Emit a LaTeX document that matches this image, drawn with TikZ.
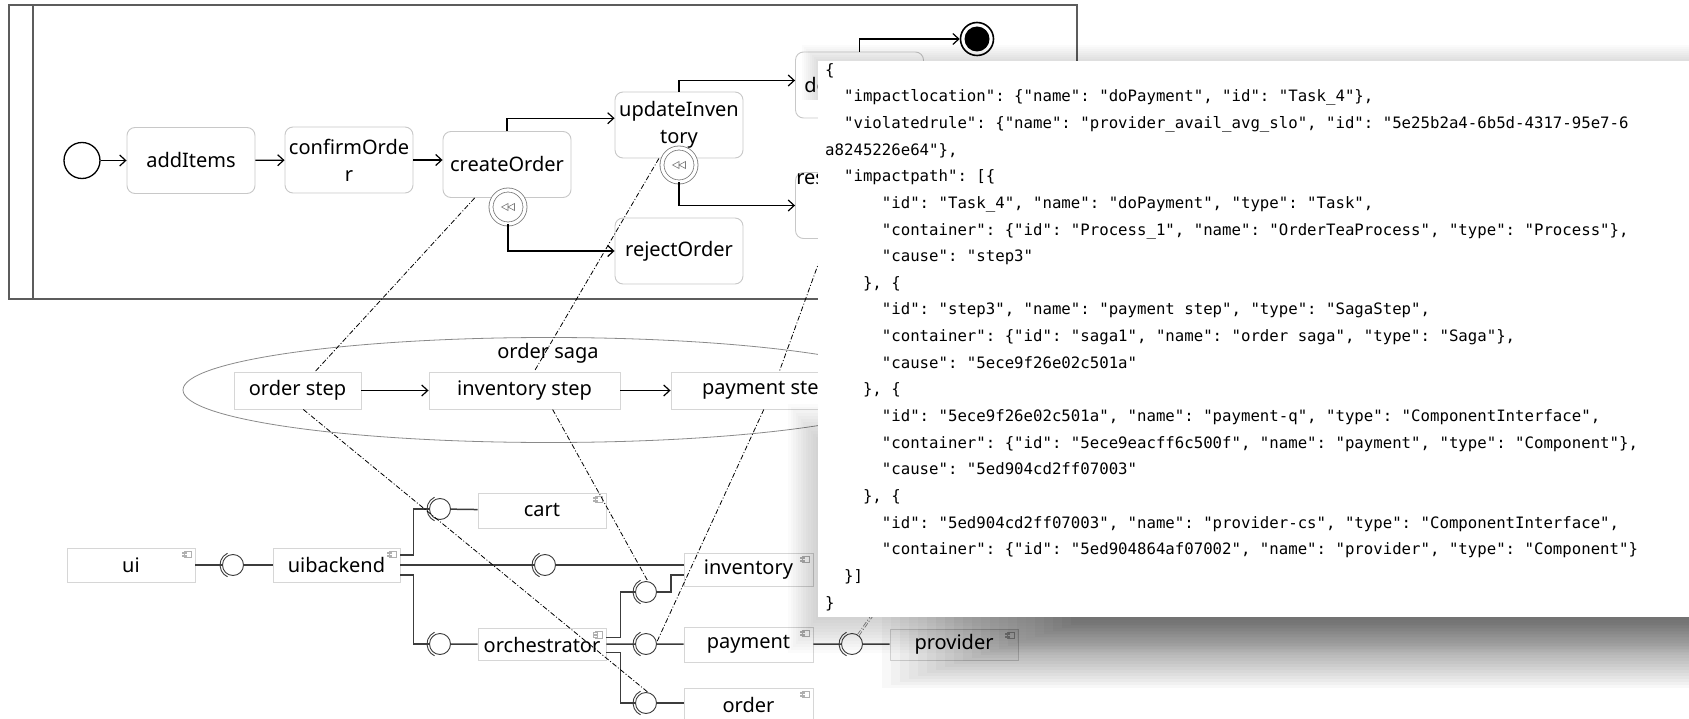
\documentclass[tikz,border=0pt]{standalone}
\usepackage{fontspec}
\setmainfont{Noto Sans}
\setmonofont{DejaVu Sans Mono}
\usetikzlibrary{arrows.meta,positioning,shapes.geometric}

\definecolor{poolc}{HTML}{5C5C5C}
\definecolor{boxc}{HTML}{C8C8C8}
\definecolor{compc}{HTML}{D6D6D6}
\definecolor{wirec}{HTML}{3C3C3C}
\definecolor{iconc}{HTML}{B0B0B0}
\definecolor{evc}{HTML}{7A7A7A}
\definecolor{sagac}{HTML}{8A8A8A}

\newcommand\taskfont{\fontsize{20}{27}\selectfont}
\newcommand\jsonfont{\ttfamily\fontsize{15.7}{26.65}\selectfont\frenchspacing}
\newcommand\ind[1]{\hspace*{#1\fontcharwd\font`x}}

\tikzstyle{pool} = [poolc, line width=1.5pt]
\tikzstyle{task} = [rectangle, rounded corners=8pt, draw=boxc, line width=0.9pt, fill=white, minimum width=128pt, minimum height=66pt, inner sep=1pt, align=center, font=\taskfont]
\tikzstyle{startev} = [circle, draw=black, line width=1.3pt, fill=white, minimum size=36pt, inner sep=0pt]
\tikzstyle{endev} = [circle, draw=black, line width=1.6pt, fill=white, minimum size=33pt, inner sep=0pt, path picture={\fill[black] (path picture bounding box.center) circle (12.5pt);}]
\tikzstyle{bevent} = [circle, draw=evc, line width=0.8pt, double=white, double distance=3.2pt, fill=white, minimum size=34pt, inner sep=0pt]
\tikzstyle{sagastep} = [rectangle, draw=compc, line width=0.9pt, fill=white, minimum height=37pt, inner sep=1pt, font=\taskfont]
\tikzstyle{comp} = [rectangle, draw=compc, line width=0.9pt, fill=white, minimum width=128pt, minimum height=34pt, inner sep=1pt, font=\taskfont]
\tikzstyle{ball} = [circle, draw=wirec, line width=0.9pt, fill=white, minimum size=21pt, inner sep=0pt]
\tikzstyle{arrow} = [black, line width=1.2pt, -{Straight Barb[length=6pt,width=11pt]}]
\tikzstyle{wire} = [wirec, line width=1.5pt]
\tikzstyle{trace} = [black, line width=0.8pt, dash pattern=on 5pt off 2pt on 1pt off 2pt]
\tikzstyle{json} = [inner sep=0pt, align=left, font=\jsonfont]

\tikzset{
  pics/rewind/.style={code={
    \draw[evc, line width=0.6pt] (-6.5pt,0pt) -- (0pt,3.5pt) -- (0pt,-3.5pt) -- cycle
      (0pt,0pt) -- (6.5pt,3.5pt) -- (6.5pt,-3.5pt) -- cycle;}},
  pics/compicon/.style={code={
    \draw[iconc, line width=0.6pt, fill=white] (-3.5pt,-3pt) rectangle (4pt,3.5pt);
    \draw[iconc, line width=0.6pt, fill=white] (-5.5pt,-2pt) rectangle (-1.5pt,-0.5pt)
      (-5.5pt,0.8pt) rectangle (-1.5pt,2.3pt);}}
}

\begin{document}
\begin{tikzpicture}[x=1pt, y=-1pt]
	\useasboundingbox (0,0) rectangle (1689,719);
	\clip (0,0) rectangle (1689,719);
	% pool and its lane header
	\draw [pool] (9,5) rectangle (1077,299);
	\draw [pool] (33,5) -- (33,299);

	% process
	\node (start) [startev] at (82,160.5) {};
	\node (addItems) [task] at (191,160.5) {addItems};
	\node (confirmOrder) [task] at (349,160) {confirmOrde\\r};
	\node (createOrder) [task] at (507,164.5) {createOrder};
	\node (updInv) [task] at (679,125) {updateInven\\tory};
	\node (rejectOrder) [task] at (679,251) {rejectOrder};
	\node (doPay) [task, label={[font=\taskfont, anchor=west, inner sep=0pt, xshift=9pt]west:do}] at (859.5,85) {};
	\node (resB) [task, label={[font=\taskfont, anchor=north west, inner sep=1pt]north west:res}] at (859.5,205.5) {};
	\node (cancelOrd) [bevent] at (508,207) {};
	\node (cancelInv) [bevent] at (679,165) {};
	\pic at (cancelOrd) {rewind};
	\pic at (cancelInv) {rewind};
	\node (finish) [endev] at (977,39) {};

	\draw [arrow] (start) -- (addItems);
	\draw [arrow] (addItems) -- (confirmOrder);
	\draw [arrow] (confirmOrder.east) -- (confirmOrder.east -| createOrder.west);
	\draw [arrow] (createOrder.north) |- (updInv.174);
	\draw [arrow] (cancelOrd.south) |- (rejectOrder.west);
	\draw [arrow] (updInv.north) |- (doPay.176);
	\draw [arrow] (cancelInv.south) |- (resB.west);
	\draw [arrow] (doPay.north) |- (finish.west);

	% saga
	\node (saga) [ellipse, draw=sagac, line width=0.8pt, minimum width=732pt, minimum height=105pt] at (549,390) {};
	\node (sagaName) [font=\taskfont] at (548,353) {order saga};
	\node (ostep) [sagastep, minimum width=127pt] at (297.5,390.5) {order step};
	\node (istep) [sagastep, minimum width=191pt] at (524.5,390.5) {inventory step};
	\node (pstep) [sagastep, minimum width=191pt] at (766.5,390.5) {payment step};
	\draw [arrow] (ostep) -- (istep);
	\draw [arrow] (istep) -- (pstep);

	% components and their interfaces
	\node (ui) [comp] at (131,565) {ui};
	\node (sUi) [ball] at (233,565) {};
	\node (uib) [comp, minimum width=127pt] at (336.5,565) {uibackend};
	\node (sCart) [ball] at (440,509) {};
	\node (cart) [comp, minimum height=35pt] at (542,510.5) {cart};
	\node (sInvA) [ball] at (545,565) {};
	\node (inv) [comp, minimum width=129pt, minimum height=33pt] at (748.5,569.5) {inventory};
	\node (sOrch) [ball] at (440,644) {};
	\node (orch) [comp, minimum height=32pt] at (542,644.5) {orchestrator};
	\node (sInvB) [ball] at (646,592) {};
	\node (sPay) [ball] at (646,644) {};
	\node (sOrd) [ball] at (646,703) {};
	\node (pay) [comp, minimum width=129pt, minimum height=35pt] at (748.5,644.5) {payment};
	\node (ordr) [comp, minimum width=129pt] at (748.5,705) {order};
	\node (sProv) [ball] at (852,644) {};
	\node (prov) [comp, minimum height=31pt] at (954,644.5) {provider};

	\draw [wire] (ui) -- (sUi);
	\draw [wire] (sUi) -- (uib);
	\draw [wire] (uib.9) -- ++(13,0) |- (sCart);
	\draw [wire] (uib) -- (sInvA);
	\draw [wire] (uib.-9) -- ++(13,0) |- (sOrch);
	\draw [wire] (sCart) -- (cart);
	\draw [wire] (sInvA) -- (sInvA -| inv.west);
	\draw [wire] (sOrch) -- (orch);
	\draw [wire] (orch.6) -- ++(14,0) |- (sInvB);
	\draw [wire] (orch) -- (sPay);
	\draw [wire] (orch.-7) -- ++(14,0) |- (sOrd);
	\draw [wire] (sInvB) -- ++(25,0) |- (inv.185);
	\draw [wire] (sPay) -- (pay);
	\draw [wire] (sOrd) -- (sOrd -| ordr.west);
	\draw [wire] (pay) -- (sProv);
	\draw [wire] (sProv) -- (prov);
	\foreach \s in {sUi,sCart,sInvA,sOrch,sInvB,sPay,sOrd,sProv}
		\draw [wirec, line width=0.9pt] (\s.center) ++(115:13pt) arc [start angle=115, end angle=245, radius=13pt];
	\foreach \c in {ui,uib,cart,inv,orch,pay,ordr,prov}
		\pic at ([xshift=-8pt,yshift=-7pt]\c.north east) {compicon};

	% task -> saga step -> interface links
	\draw [trace] (createOrder.226) -- (ostep.47);
	\draw [trace] (ostep.-73) -- (sOrd.80);
	\draw [trace] (updInv.239) -- (istep.63);
	\draw [trace] (istep.-34) -- (sInvB.80);
	\draw [trace] (doPay.-71) -- (pstep.56);
	\draw [trace] (pstep.-98) -- (sPay.10);
	\coordinate (provLink) at (1010,420);
	\draw [trace, gray, double, double distance=1pt] (sProv.55) -- (provLink);

	% popup with its drop shadow
	\foreach \k in {1,...,22}
		\fill [black, opacity=0.028] (1080-9*\k,470-3*\k) rectangle (1770,622+3*\k);
	\foreach \k in {1,...,12}
		\fill [black, opacity=0.017] (818-2.5*\k,440-3*\k) rectangle (1770,617+3*\k);
	\foreach \k in {1,...,8}
		\fill [black, opacity=0.015] (818-2*\k,61-2*\k) rectangle (1770,100);
	\fill [white] (818,61) rectangle (1770,617);
	\node (impact) [json, anchor=north west] at (825,63) {%
\{\\
\ind{2}"impactlocation": \{"name": "doPayment", "id": "Task\_4"\},\\
\ind{2}"violatedrule": \{"name": "provider\_avail\_avg\_slo", "id": "5e25b2a4-6b5d-4317-95e7-6\\
a8245226e64"\},\\
\ind{2}"impactpath": [\{\\
\ind{6}"id": "Task\_4", "name": "doPayment", "type": "Task",\\
\ind{6}"container": \{"id": "Process\_1", "name": "OrderTeaProcess", "type": "Process"\},\\
\ind{6}"cause": "step3"\\
\ind{4}\}, \{\\
\ind{6}"id": "step3", "name": "payment step", "type": "SagaStep",\\
\ind{6}"container": \{"id": "saga1", "name": "order saga", "type": "Saga"\},\\
\ind{6}"cause": "5ece9f26e02c501a"\\
\ind{4}\}, \{\\
\ind{6}"id": "5ece9f26e02c501a", "name": "payment-q", "type": "ComponentInterface",\\
\ind{6}"container": \{"id": "5ece9eacff6c500f", "name": "payment", "type": "Component"\},\\
\ind{6}"cause": "5ed904cd2ff07003"\\
\ind{4}\}, \{\\
\ind{6}"id": "5ed904cd2ff07003", "name": "provider-cs", "type": "ComponentInterface",\\
\ind{6}"container": \{"id": "5ed904864af07002", "name": "provider", "type": "Component"\}\\
\ind{2}\}]\\
\}};
\end{tikzpicture}
\end{document}
